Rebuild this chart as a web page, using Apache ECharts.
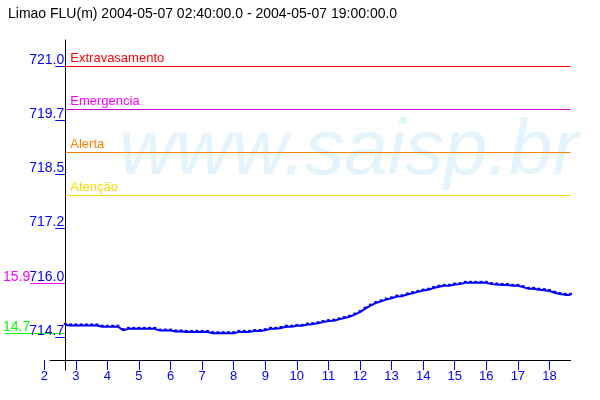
<!DOCTYPE html>
<html><head><meta charset="utf-8">
<script src="https://cdn.jsdelivr.net/npm/echarts@6/dist/echarts.min.js"></script>
<style>html,body{margin:0;padding:0;background:#fff}#c{width:600px;height:400px}</style>
</head><body><div id="c"></div>
<script>
// ---- data ----
var titleText = 'Limao FLU(m) 2004-05-07 02:40:00.0 - 2004-05-07 19:00:00.0';
var startHour = 2 + 40 / 60;           // 02:40
var stepHour = 10 / 60;                // 10-minute readings
var levels = [
  714.98, 714.97, 714.97, 714.97, 714.97, 714.97, 714.97, 714.94, 714.94, 714.94,
  714.94, 714.86, 714.89, 714.89, 714.89, 714.89, 714.89, 714.89, 714.85, 714.85,
  714.85, 714.83, 714.83, 714.82, 714.82, 714.82, 714.82, 714.82, 714.79, 714.79,
  714.79, 714.79, 714.79, 714.82, 714.82, 714.82, 714.84, 714.84, 714.86, 714.89,
  714.89, 714.91, 714.94, 714.94, 714.96, 714.96, 714.99, 715.00, 715.02, 715.05,
  715.07, 715.08, 715.11, 715.14, 715.17, 715.22, 715.28, 715.36, 715.43, 715.49,
  715.53, 715.57, 715.60, 715.64, 715.65, 715.69, 715.72, 715.75, 715.78, 715.80,
  715.84, 715.87, 715.89, 715.89, 715.92, 715.93, 715.96, 715.96, 715.96, 715.96,
  715.96, 715.93, 715.92, 715.91, 715.91, 715.89, 715.89, 715.86, 715.82, 715.82,
  715.80, 715.79, 715.77, 715.73, 715.70, 715.68, 715.68
];
var hourTicks = [2,3,4,5,6,7,8,9,10,11,12,13,14,15,16,17,18];
var levelTicks = [714.70, 715.96, 717.22, 718.48, 719.74, 721.00];
var thresholdNames = ['Extravasamento', 'Emergencia', 'Alerta', 'Atenção'];
var thresholdValues = [721, 720, 719, 718];
var thresholdLineColors = ['#ff0000', '#cc00cc', '#ff8000', '#ffd700'];
var thresholdTextColors = ['#ff0000', '#ff00ff', '#ff8000', '#ffd700'];
var watermark = 'www.saisp.br';

// ---- build ----
var points = levels.map(function (v, i) { return [startHour + i * stepHour, v]; });
var endHour = startHour + (levels.length - 1) * stepHour;
var maxLevel = Math.max.apply(null, levels);
var minLevel = Math.min.apply(null, levels);
function trunc1(v) { return (Math.floor((v - 700) * 10 + 1e-6) / 10).toFixed(1); }

var Y_MIN = 713.934, Y_MAX = 721.604;
var FONT = 'Liberation Sans';

var markData = thresholdValues.map(function (v, i) {
  return [
    { coord: [startHour, v], lineStyle: { color: thresholdLineColors[i] },
      label: { formatter: thresholdNames[i], color: thresholdTextColors[i] } },
    { coord: [endHour, v] }
  ];
});

function extraAxis(val, color, tickLen) {
  return {
    type: 'value', gridIndex: 0, position: 'left', offset: -21,
    min: Y_MIN, max: Y_MAX,
    axisLine: { show: false, onZero: false },
    splitLine: { show: false },
    axisTick: { show: true, customValues: [val], length: tickLen, lineStyle: { color: color, width: 1 } },
    axisLabel: { show: true, customValues: [val], color: color, fontFamily: FONT, fontSize: 14,
      margin: 35, verticalAlign: 'bottom', lineHeight: 12,
      formatter: function (v) { return trunc1(v); } }
  };
}

var chart = echarts.init(document.getElementById('c'), null, { renderer: 'canvas' });
chart.setOption({
  animation: false,
  backgroundColor: '#ffffff',
  title: {
    text: titleText, left: 3, top: 2,
    textStyle: { fontFamily: FONT, fontSize: 14, fontWeight: 'normal', color: '#000' }
  },
  graphic: [{
    type: 'text', left: 119, top: 113, z: -10, silent: true,
    style: { text: watermark, font: 'italic 78px "Liberation Sans"', fill: '#e3f4fc' }
  }],
  grid: [
    { left: 39, right: 29.5, top: 40, bottom: 30, containLabel: false },
    { left: 50, right: 29.5, top: 40, bottom: 30, containLabel: false }
  ],
  xAxis: [
    {
      type: 'value', gridIndex: 0, min: 2, max: endHour, offset: -10,
      axisLine: { show: false, onZero: false },
      splitLine: { show: false },
      axisTick: { show: true, length: 10, customValues: hourTicks, lineStyle: { color: '#0000ff' } },
      axisLabel: { color: '#0000ff', fontFamily: FONT, fontSize: 13, margin: 10,
        customValues: hourTicks },
    },
    {
      type: 'value', gridIndex: 1, min: 0, max: 1, offset: -10,
      axisLine: { show: true, onZero: false, lineStyle: { color: '#000', width: 1 } },
      axisTick: { show: false }, axisLabel: { show: false }, splitLine: { show: false }
    }
  ],
  yAxis: [
    {
      type: 'value', gridIndex: 0, position: 'left', offset: -21, min: Y_MIN, max: Y_MAX,
      axisLine: { show: true, onZero: false, lineStyle: { color: '#000', width: 1 } },
      splitLine: { show: false },
      axisTick: { show: true, customValues: levelTicks, length: 10, lineStyle: { color: '#0000ff' } },
      axisLabel: { customValues: levelTicks, color: '#0000ff', fontFamily: FONT, fontSize: 14,
        margin: 1, verticalAlign: 'bottom', lineHeight: 12,
        formatter: function (v) { return v.toFixed(1); } }
    },
    extraAxis(maxLevel, '#ff00ff', 35),
    extraAxis(minLevel, '#00ff00', 60),
    { type: 'value', gridIndex: 1, show: false, min: 0, max: 1 }
  ],
  series: [{
    type: 'line', xAxisIndex: 0, yAxisIndex: 0, data: points,
    lineStyle: { color: '#0000ff', width: 2 },
    itemStyle: { color: '#0000ff' },
    symbol: 'rect', symbolSize: [3, 2], symbolOffset: [0, -1], showSymbol: true,
    z: 5,
    markLine: {
      silent: true, symbol: ['none', 'none'], animation: false,
      lineStyle: { type: 'solid', width: 1 },
      label: { show: true, position: 'insideStartTop', distance: [5, 1],
        fontFamily: FONT, fontSize: 13 },
      data: markData
    }
  }]
});
</script></body></html>
